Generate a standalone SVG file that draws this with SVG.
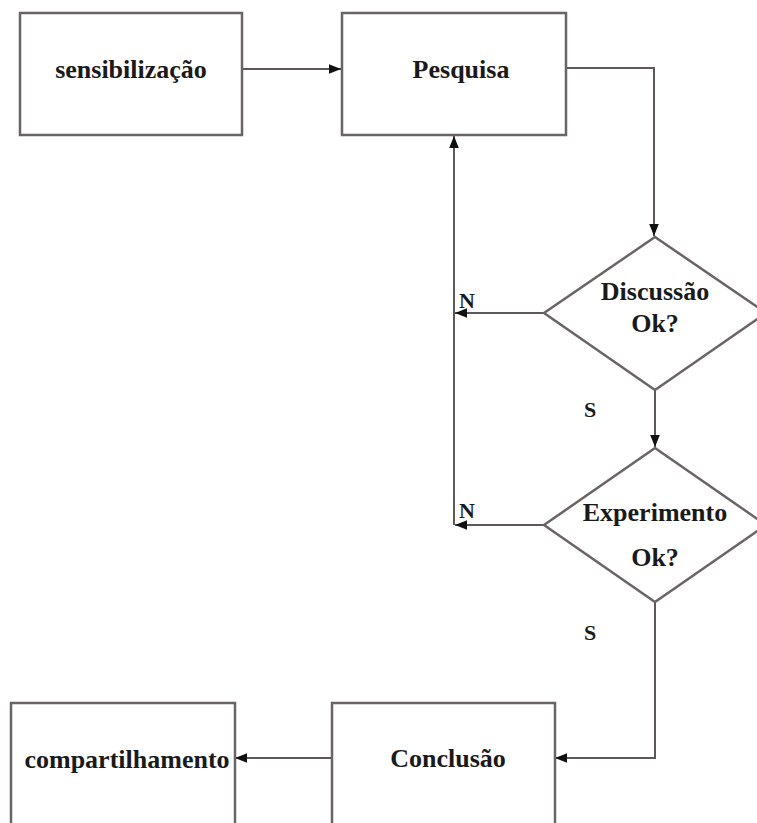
<svg xmlns="http://www.w3.org/2000/svg" width="757" height="823" viewBox="0 0 757 823">
<style>
.box{fill:#fff;stroke:#6a6464;stroke-width:2.5}
.lbl{font-family:"Liberation Serif","Times New Roman",serif;font-weight:bold;font-size:26px;fill:#1a1a1a;text-anchor:middle}
.sm{font-family:"Liberation Serif","Times New Roman",serif;font-weight:bold;font-size:22px;fill:#1a1a1a;text-anchor:middle}
.conn{fill:none;stroke:#5e5858;stroke-width:2}
</style>
<defs>
<marker id="ah" viewBox="0 0 10 10" refX="10" refY="5" markerWidth="6" markerHeight="6" orient="auto" markerUnits="userSpaceOnUse">
<path d="M0,0 L10,5 L0,10 z" fill="#111"/>
</marker>
<marker id="ahb" viewBox="0 0 10 10" refX="10" refY="5" markerWidth="12" markerHeight="12" orient="auto" markerUnits="userSpaceOnUse">
<path d="M0,1 L10,5 L0,9 z" fill="#111"/>
</marker>
</defs>
<rect width="757" height="823" fill="#fff"/>
<g id="connectors">
<path class="conn" d="M242,69 H341" marker-end="url(#ahb)"/>
<path class="conn" d="M566,68 H654 V236" marker-end="url(#ahb)"/>
<path class="conn" d="M544,313 H455" marker-end="url(#ahb)"/>
<path class="conn" d="M544,525 H455" marker-end="url(#ahb)"/>
<path class="conn" d="M454,525 V136" marker-end="url(#ahb)"/>
<path class="conn" d="M655,390 V447" marker-end="url(#ahb)"/>
<path class="conn" d="M655,602 V758 H555" marker-end="url(#ahb)"/>
<path class="conn" d="M332,758 H235" marker-end="url(#ahb)"/>
<text class="sm" x="467" y="308">N</text>
<text class="sm" x="467" y="518">N</text>
<text class="sm" x="590" y="417">S</text>
<text class="sm" x="590" y="640">S</text>
</g>
<g id="sensibilizacao">
<rect class="box" x="20" y="13" width="222" height="122"/>
<text class="lbl" x="131" y="78">sensibilização</text>
</g>
<g id="pesquisa">
<rect class="box" x="342" y="13" width="224" height="122"/>
<text class="lbl" x="461" y="78">Pesquisa</text>
</g>
<g id="discussao">
<polygon class="box" points="655,237 766,313 655,390 544,313"/>
<text class="lbl" x="655" y="300">Discussão</text>
<text class="lbl" x="655" y="332">Ok?</text>
</g>
<g id="experimento">
<polygon class="box" points="655,448 766,525 655,602 544,525"/>
<text class="lbl" x="655" y="521">Experimento</text>
<text class="lbl" x="655" y="566">Ok?</text>
</g>
<g id="conclusao">
<rect class="box" x="332" y="703" width="223" height="130"/>
<text class="lbl" x="448" y="767">Conclusão</text>
</g>
<g id="compartilhamento">
<rect class="box" x="11" y="703" width="224" height="130"/>
<text class="lbl" x="127" y="768">compartilhamento</text>
</g>
</svg>
